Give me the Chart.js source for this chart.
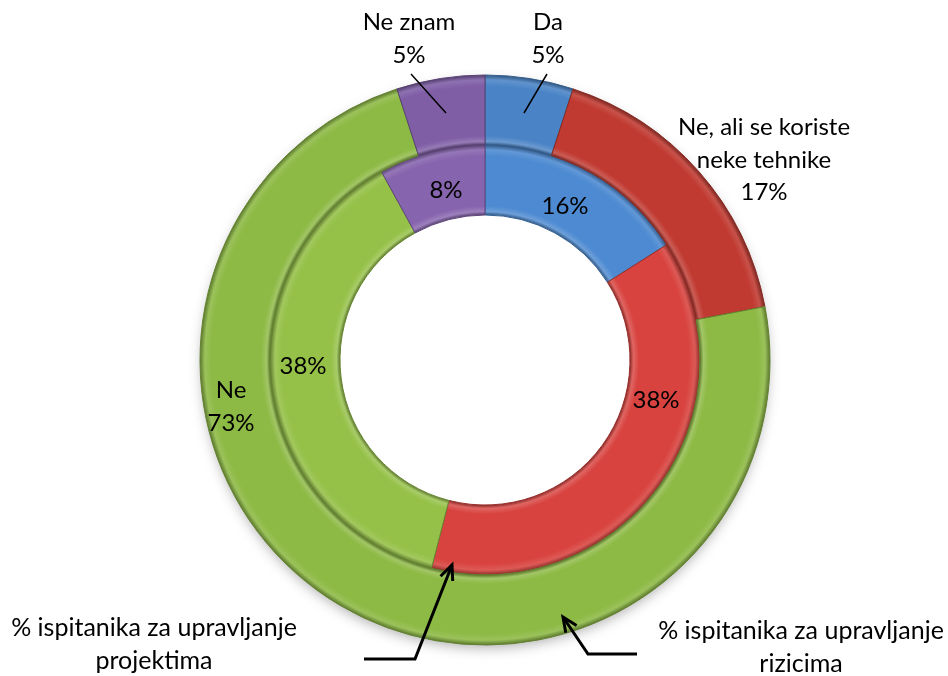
<!DOCTYPE html>
<html>
<head>
<meta charset="utf-8">
<script src="https://cdn.jsdelivr.net/npm/chart.js@4.4.1/dist/chart.umd.min.js"></script>
<style>
  html, body { margin: 0; padding: 0; background: #fff; }
  #wrap { width: 948px; height: 676px; }
</style>
</head>
<body>
<div id="wrap"><canvas id="chart" width="948" height="676"></canvas></div>
<script>
// --- Data ---
const categories = ['Da', 'Ne, ali se koriste neke tehnike', 'Ne', 'Ne znam'];
const riskValues = [5, 17, 73, 5];       // outer ring
const projectValues = [16, 38, 38, 8];   // inner ring
const seriesNames = ['% ispitanika za upravljanje rizicima', '% ispitanika za upravljanje projektima'];

// --- Colours ---
const outerColors = ['#4a84c6', '#c03a31', '#8dba45', '#7f5ea6'];
const innerColors = ['#4d8ad1', '#d8433f', '#95c148', '#8764ae'];

// shade a hex colour: amt > 0 lighter, amt < 0 darker
function shade(hex, amt) {
  const n = parseInt(hex.slice(1), 16);
  let r = (n >> 16) & 255, g = (n >> 8) & 255, b = n & 255;
  const t = amt < 0 ? 0 : 255, p = Math.abs(amt);
  r = Math.round(r + (t - r) * p);
  g = Math.round(g + (t - g) * p);
  b = Math.round(b + (t - b) * p);
  return `rgb(${r},${g},${b})`;
}

// bevelled radial fill for each ring segment
function ringFill(palette) {
  return (c) => {
    const base = palette[c.dataIndex];
    const chart = c.chart, area = chart.chartArea;
    if (!area || c.type !== 'data') return base;
    const ctrl = chart.getDatasetMeta(c.datasetIndex).controller;
    if (!ctrl || !ctrl.outerRadius) return base;
    const cx = (area.left + area.right) / 2, cy = (area.top + area.bottom) / 2;
    const g = chart.ctx.createRadialGradient(cx, cy, ctrl.innerRadius, cx, cy, ctrl.outerRadius);
    g.addColorStop(0, shade(base, -0.35));
    g.addColorStop(0.05, shade(base, 0.18));
    g.addColorStop(0.13, base);
    g.addColorStop(0.84, base);
    g.addColorStop(0.93, shade(base, 0.12));
    g.addColorStop(1, shade(base, -0.35));
    return g;
  };
}

// --- Label layout (offsets from chart centre) ---
const FONT = '24px Lato, "Open Sans", sans-serif';
const CAPTION_FONT = '25px Lato, "Open Sans", sans-serif';
const outerLabelPos = [
  [[63, -338], [63, -305]],
  [[279, -233], [279, -200], [279, -168]],
  [[-254, 30], [-254, 63]],
  [[-76, -338], [-76, -305]]
];
const innerLabelPos = [[80, -154], [171, 40], [-182, 6], [-39, -170]];

const labelPlugin = {
  id: 'labels',
  beforeDatasetsDraw(chart) {
    // soft drop shadow under the rings
    const el = chart.getDatasetMeta(0).data[0];
    if (!el) return;
    const ctx = chart.ctx;
    ctx.save();
    ctx.shadowColor = 'rgba(0,0,0,0.35)';
    ctx.shadowBlur = 14;
    ctx.shadowOffsetY = 5;
    ctx.fillStyle = '#ffffff';
    ctx.beginPath();
    ctx.arc(el.x, el.y, el.outerRadius - 3, 0, Math.PI * 2);
    ctx.fill();
    ctx.restore();
  },
  afterDatasetsDraw(chart) {
    const ctx = chart.ctx;
    const el = chart.getDatasetMeta(0).data[0];
    if (!el) return;
    const cx = el.x, cy = el.y;
    ctx.save();
    ctx.font = FONT;
    ctx.fillStyle = '#000';
    ctx.textAlign = 'center';
    ctx.textBaseline = 'middle';

    // outer ring labels: category + value
    const catLines = [['Da'], ['Ne, ali se koriste', 'neke tehnike'], ['Ne'], ['Ne znam']];
    categories.forEach((cat, i) => {
      const texts = catLines[i].concat([riskValues[i] + '%']);
      texts.forEach((t, k) => {
        const p = outerLabelPos[i][k];
        ctx.fillText(t, cx + p[0], cy + p[1]);
      });
    });

    // inner ring values
    projectValues.forEach((v, i) => {
      const p = innerLabelPos[i];
      ctx.fillText(v + '%', cx + p[0], cy + p[1]);
    });

    // leader lines for the two small outer slices
    ctx.strokeStyle = '#000';
    ctx.lineWidth = 1.5;
    ctx.beginPath();
    ctx.moveTo(cx + 62, cy - 286); ctx.lineTo(cx + 39, cy - 247);
    ctx.moveTo(cx - 74, cy - 286); ctx.lineTo(cx - 39, cy - 247);
    ctx.stroke();

    // series captions
    ctx.font = CAPTION_FONT;
    ctx.fillText(seriesNames[1].replace(' projektima', ''), 154, 628);
    ctx.fillText('projektima', 154, 661);
    ctx.fillText(seriesNames[0].replace(' rizicima', ''), 801, 631);
    ctx.fillText('rizicima', 801, 664);

    // arrows
    function arrow(x0, y0, x1, y1, x2, y2) {
      ctx.lineWidth = 3;
      ctx.beginPath();
      ctx.moveTo(x0, y0); ctx.lineTo(x1, y1); ctx.lineTo(x2, y2);
      ctx.stroke();
      const a = Math.atan2(y2 - y1, x2 - x1);
      const len = 16, spread = 0.42;
      ctx.beginPath();
      ctx.moveTo(x2 - len * Math.cos(a - spread), y2 - len * Math.sin(a - spread));
      ctx.lineTo(x2, y2);
      ctx.lineTo(x2 - len * Math.cos(a + spread), y2 - len * Math.sin(a + spread));
      ctx.stroke();
    }
    arrow(364, 659, 415, 659, 452, 565);
    arrow(637, 654, 588, 654, 563, 617);
    ctx.restore();
  }
};

new Chart(document.getElementById('chart'), {
  type: 'doughnut',
  data: {
    labels: categories,
    datasets: [
      {
        label: seriesNames[0],
        data: riskValues,
        backgroundColor: ringFill(outerColors),
        borderColor: outerColors.map(c => shade(c, -0.3)),
        borderWidth: 1
      },
      {
        label: seriesNames[1],
        data: projectValues,
        backgroundColor: ringFill(innerColors),
        borderColor: innerColors.map(c => shade(c, -0.3)),
        borderWidth: 1
      }
    ]
  },
  options: {
    responsive: false,
    animation: false,
    radius: 285,
    cutout: '50.88%',
    hoverOffset: 0,
    layout: { padding: { top: 75, bottom: 31, left: 22, right: 0 } },
    plugins: {
      legend: { display: false },
      tooltip: { enabled: false }
    },
    events: []
  },
  plugins: [labelPlugin]
});
</script>
</body>
</html>
